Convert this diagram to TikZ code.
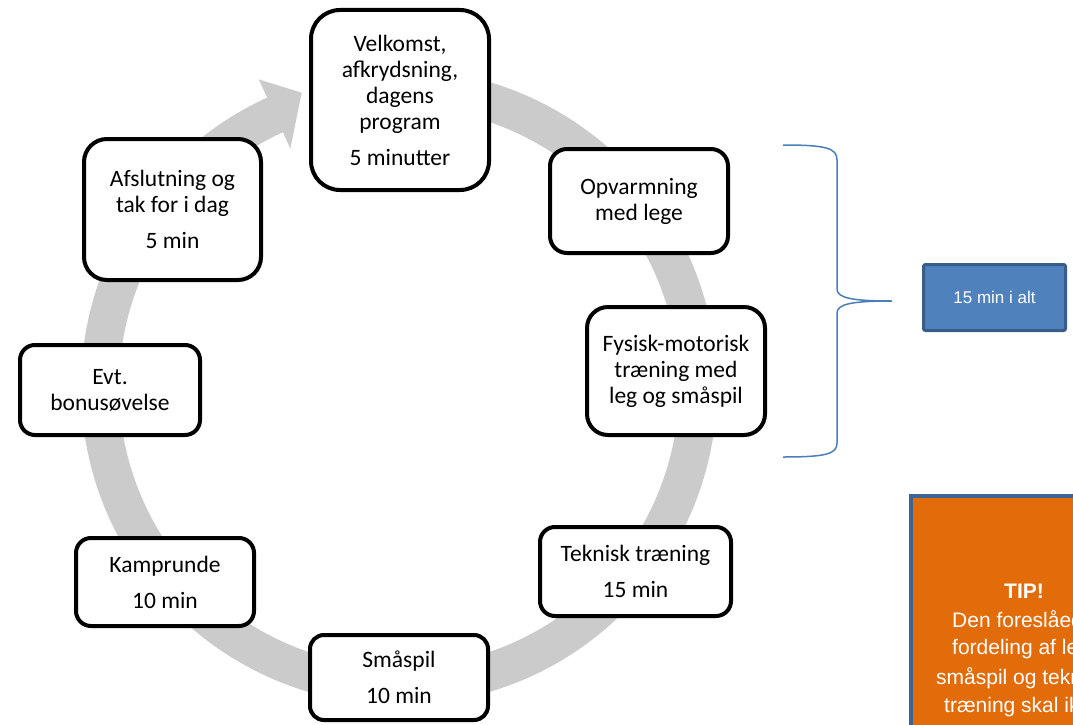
\documentclass[tikz,border=0pt]{standalone}
\usepackage{fontspec}
\setmainfont{Carlito}
\newfontfamily\arialf{Liberation Sans}
\definecolor{ringgray}{RGB}{203,203,203}
\definecolor{braceblue}{RGB}{74,126,187}
\definecolor{boxblue}{RGB}{79,129,189}
\definecolor{boxblueline}{RGB}{56,93,138}
\definecolor{tiporange}{RGB}{227,108,10}
\definecolor{tipline}{RGB}{60,100,148}
\begin{document}
\begin{tikzpicture}[x=1pt,y=-1pt,
  stepbox/.style={draw=black, line width=4pt, fill=white, align=center,
    font=\fontsize{23.5}{26}\selectfont, inner sep=0pt},
  tiptext/.style={text=white, font=\arialf\fontsize{21}{28}\selectfont, inner sep=0pt}]
\useasboundingbox (0,0) rectangle (1073,725);
\clip (0,0) rectangle (1073,725);
% ring arrow
\begin{scope}[shift={(399,387)}]
\fill[ringgray] (-95:318) arc[start angle=-95, end angle=245.5, radius=318]
  -- (-114.5:338) -- (-108.3:310) -- (-114.5:262) -- (-114.5:280)
  arc[start angle=245.5, end angle=-95, radius=280] -- cycle;
\end{scope}
% boxes
\node[stepbox, minimum width=178, minimum height=180, rounded corners=29] (velk) at (400,100)
  {Velkomst,\\afkrydsning,\\dagens\\program\\[10pt]5 minutter};
\node[stepbox, minimum width=178, minimum height=104, rounded corners=17] (opv) at (639,201)
  {Opvarmning\\med lege};
\node[stepbox, minimum width=178, minimum height=128, rounded corners=21] (fys) at (676,371)
  {Fysisk-motorisk\\træning med\\leg og småspil};
\node[stepbox, minimum width=191, minimum height=89, rounded corners=15] (tek) at (635.5,571.5)
  {Teknisk træning\\[10pt]15 min};
\node[stepbox, minimum width=178, minimum height=85, rounded corners=14] (sma) at (399,677.5)
  {Småspil\\[10pt]10 min};
\node[stepbox, minimum width=178, minimum height=88, rounded corners=15] (kamp) at (165,582)
  {Kamprunde\\[10pt]10 min};
\node[stepbox, minimum width=180, minimum height=90, rounded corners=15] (evt) at (110,390)
  {Evt.\\bonusøvelse};
\node[stepbox, minimum width=177, minimum height=141, rounded corners=23] (afs) at (172.5,209.5)
  {Afslutning og\\tak for i dag\\[10pt]5 min};
% brace
\coordinate (btop) at (783,145);
\coordinate (btip) at (892,301);
\coordinate (bbot) at (783,457);
\draw[braceblue, line width=1.5pt] (btop) .. controls (826,145) and (837,148) .. (837,160)
  -- (837,289) .. controls (837,298) and (852,301) .. (btip)
  .. controls (852,301) and (837,304) .. (837,313)
  -- (837,443) .. controls (837,454) and (826,457) .. (bbot);
% blue box
\node[draw=boxblueline, fill=boxblue, line width=3pt, rounded corners=2pt,
  minimum width=142, minimum height=66, inner sep=0pt, text=white,
  font=\arialf\fontsize{17}{20}\selectfont] (alt) at (994.5,297.5) {15 min i alt};
% tip box
\node[draw=tipline, fill=tiporange, line width=4pt, anchor=north west,
  minimum width=300, minimum height=300, inner sep=0pt] (tip) at (909,494) {};
\node[tiptext, anchor=base, font=\arialf\bfseries\fontsize{21}{28}\selectfont] (tip1) at (1024,598) {TIP!};
\node[tiptext, anchor=base west] (tip2) at (952,627) {Den foreslåede};
\node[tiptext, anchor=base west] (tip3) at (952,654.5) {fordeling af lege,};
\node[tiptext, anchor=base west] (tip4) at (936,684) {småspil og teknisk};
\node[tiptext, anchor=base west] (tip5) at (944,712) {træning skal ikke};
\end{tikzpicture}
\end{document}
